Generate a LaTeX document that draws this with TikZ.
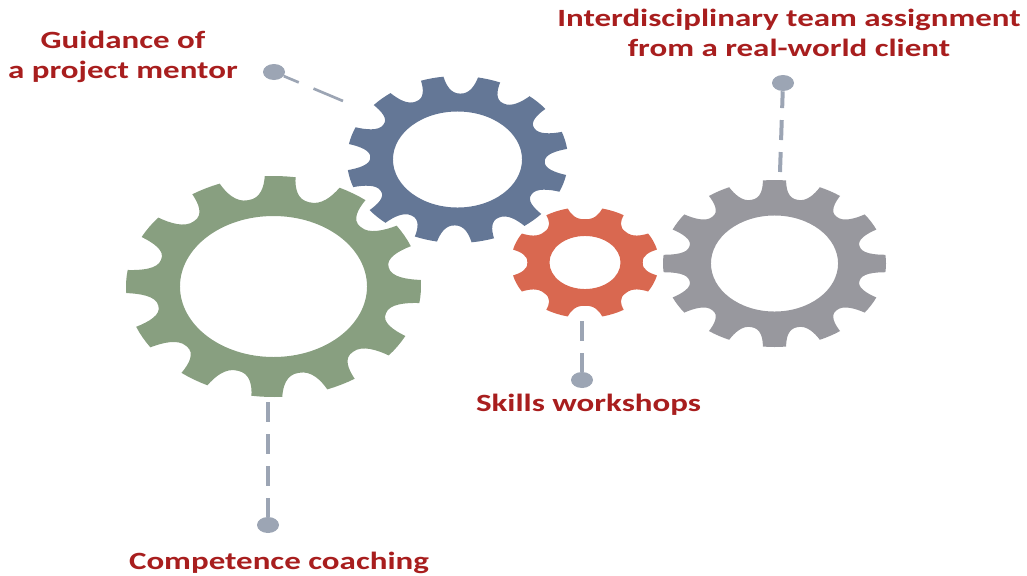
\documentclass[tikz,border=0pt]{standalone}
\usepackage{fontspec}
\usetikzlibrary{shapes.geometric}
\setmainfont{Carlito}[FakeStretch=1.33]
\definecolor{gblue}{HTML}{647796}
\definecolor{ggreen}{HTML}{889F80}
\definecolor{gred}{HTML}{D96850}
\definecolor{ggray}{HTML}{98989E}
\definecolor{dotc}{HTML}{9CA5B4}
\definecolor{lab}{HTML}{A81E1E}
\tikzset{
 lbl/.style={text=lab,font=\bfseries\fontsize{18.6}{22.5}\selectfont,align=center,inner sep=0pt},
 dot/.style={ellipse,fill=dotc,minimum width=16.5pt,minimum height=12pt,inner sep=0pt},
 dashline/.style={draw=dotc,line width=3pt,dash pattern=on 15pt off 9pt},
 dashthin/.style={draw=dotc,line width=2pt,dash pattern=on 24pt off 12pt}
}
% cx cy rx ry N firstNotchAngle halfNotch root colour
\newcommand{\mygear}[9]{%
 \begin{scope}[shift={(#1,#2)},x=#3*0.75pt,y=-#4*0.75pt]
 \pgfmathsetmacro{\per}{360/#5}
 \pgfmathsetmacro{\hw}{#7}
 \pgfmathsetmacro{\rt}{#8}
 \fill[#9,even odd rule] (#6-\hw:1)
 \foreach \k in {1,...,#5}{
   \pgfextra{\pgfmathsetmacro{\a}{#6+(\k-1)*\per}%
   \pgfmathsetmacro{\b}{\a+\hw}\pgfmathsetmacro{\bb}{\a+\per-\hw}%
   \pgfmathsetmacro{\s}{\a-\hw*0.93}\pgfmathsetmacro{\t}{\a-\hw*0.7}\pgfmathsetmacro{\u}{\a+\hw*0.7}\pgfmathsetmacro{\v}{\a+\hw*0.93}%
   \pgfmathsetmacro{\mid}{(\b+\bb)/2}}
   .. controls (\s:{\rt+0.55*(1-\rt)}) and (\t:\rt) .. (\a:\rt)
   .. controls (\u:\rt) and (\v:{\rt+0.55*(1-\rt)}) .. (\b:1)
   -- ({(\b+\mid)/2}:1) -- (\mid:1) -- ({(\bb+\mid)/2}:1) -- (\bb:1)
 } -- cycle
 (0,0) circle[x radius=\holex,y radius=\holey];
 \end{scope}}
\begin{document}
\begin{tikzpicture}[x=0.75pt,y=-0.75pt]
\useasboundingbox (0,0) rectangle (1027,575);
\def\holex{0.634}\def\holey{0.638}
\mygear{273.5}{286.5}{147.5}{110.5}{12}{-72.4}{9}{0.80}{ggreen}
\def\holex{0.584}\def\holey{0.575}
\mygear{457.5}{159.5}{110.5}{83.5}{12}{-88.3}{9}{0.79}{gblue}
\def\holex{0.48}\def\holey{0.478}
\mygear{585}{262.5}{74}{55.5}{8}{-90}{13.5}{0.78}{gred}
\def\holex{0.57}\def\holey{0.575}
\mygear{774.5}{263.5}{111.5}{83.5}{12}{-75}{9}{0.79}{ggray}
\node[dot] (d1) at (274,72) {};
\node[dot] (d2) at (783,83) {};
\node[dot] (d3) at (582,380) {};
\node[dot] (d4) at (268,525) {};
\coordinate (e1) at (343,101);
\coordinate (e2) at (780,172);
\coordinate (e3) at (582,321);
\coordinate (e4) at (268,402);
\draw[dashthin] (e1) -- (d1);
\draw[dashline] (e2) -- (d2);
\draw[dashline] (e3) -- (d3);
\draw[dashline] (e4) -- (d4);
\node[lbl] (t1) at (123,57) {Guidance of\\a project mentor};
\node[lbl] (t2) at (789,33) {Interdisciplinary team assignment\\from a real-world client};
\node[lbl] (t3) at (588.5,405) {Skills workshops};
\node[lbl] (t4) at (279,563) {Competence coaching};
\end{tikzpicture}
\end{document}
